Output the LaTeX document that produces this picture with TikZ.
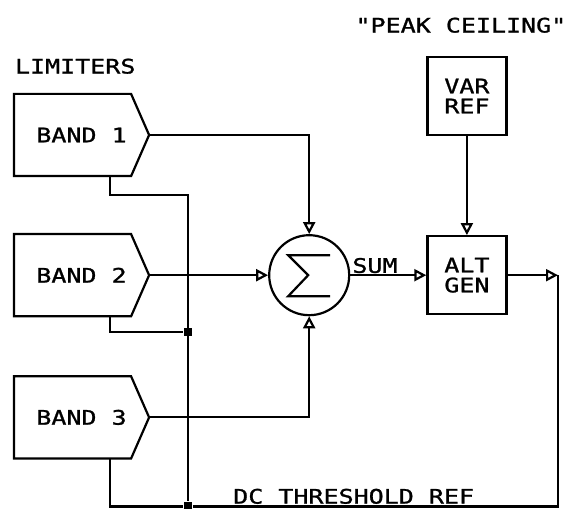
\documentclass[tikz,border=0pt]{standalone}
\usepackage{fontspec}
\newfontfamily\plotfont{DejaVu Sans Mono}[FakeStretch=1.25,FakeBold=1.2]
\usetikzlibrary{positioning,arrows.meta,calc}

\begin{document}
\begin{tikzpicture}[x=1pt,y=1pt,font={\plotfont\fontsize{20}{20}\selectfont},line width=2.2pt,>={Triangle[open,length=12pt,width=12pt]},node distance=60pt]
  \tikzstyle{band}=[minimum width=133pt,minimum height=80pt,inner sep=0pt]
  \tikzstyle{blk}=[draw,align=center,minimum width=79pt,minimum height=78pt]
  \tikzstyle{dot}=[fill,minimum size=8pt,inner sep=0pt]
  \useasboundingbox (0,0) rectangle (566,509);
  % limiters, going down
  \node[band] (b1) at (81.5,374) {BAND 1};
  \node[band,below=58pt of b1] (b2) {BAND 2};
  \node[band,below=60pt of b2] (b3) {BAND 3};
  \foreach \b in {b1,b2,b3}
    \draw (\b.north west) -- ($(\b.north east)+(-18,0)$) -- (\b.east) -- ($(\b.south east)+(-18,0)$) -- (\b.south west) -- cycle;
  \node[above=19pt of b1.north west,anchor=south west,inner sep=0pt] (lim) {LIMITERS};
  % summer, then the generator and its reference
  \node[draw,circle,minimum size=80pt,right=119pt of b2] (sum) {};
  \draw ($(sum)+(21,20)$) -- ++(-42,0) -- ($(sum)+(-1,0)$) -- ($(sum)+(-21,-21)$) -- ++(42,0);
  \node[blk,right=76pt of sum] (alt) {ALT\\GEN};
  \node[blk,above=99pt of alt] (var) {VAR\\REF};
  \node[above=22pt of var,xshift=-6pt,inner sep=0pt] (peak) {"PEAK CEILING"};
  % bus and taps
  \coordinate (tap) at (110,0);
  \coordinate (k1) at (188,314);
  \coordinate (out) at (558,0 |- alt);
  \node[dot] (j2) at (188,177) {};
  \node[dot] (j3) at (188,2.5) {};
  \draw (b1.south -| tap) |- (k1) -- (j3);
  \draw (b2.south -| tap) |- (j2);
  \draw (b3.south -| tap) |- (j3) -| (out) node[pos=0.22,above,inner sep=1.5pt]{DC THRESHOLD REF};
  % signal arrows
  \draw[->] (b1.east) -| (sum.north);
  \draw[->] (b2.east) -- (sum.west);
  \draw[->] (b3.east) -| (sum.south);
  \draw[->] (sum.east) -- (alt.west) node[at start,anchor=south west,inner sep=1pt]{SUM};
  \draw[->] (var) -- (alt);
  \draw[->] (alt) -- (out);
\end{tikzpicture}
\end{document}
